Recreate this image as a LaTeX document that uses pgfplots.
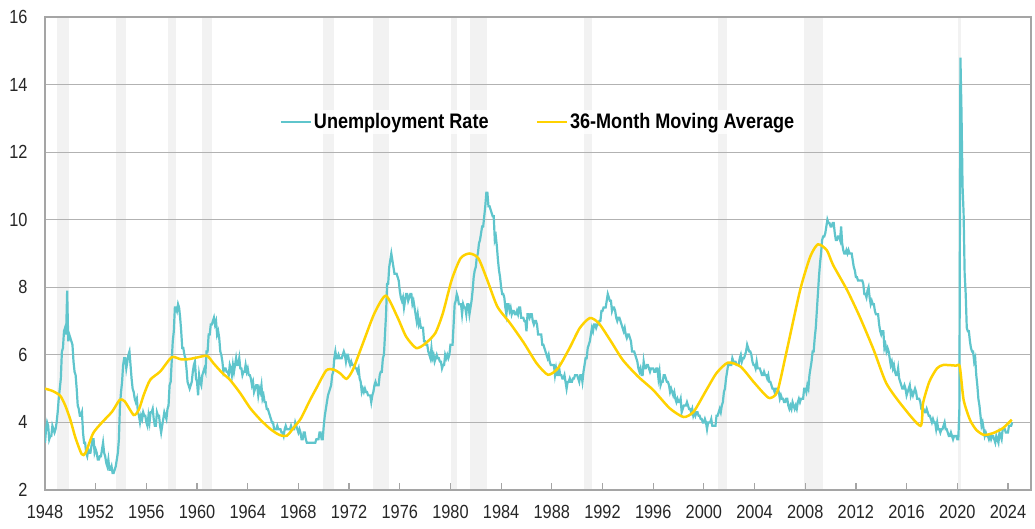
\documentclass[border=0pt]{standalone}
\usepackage{fontspec}
\setmainfont{Liberation Sans}[FakeStretch=0.86]
\usepackage{pgfplots}
\pgfplotsset{compat=1.18}
\usepackage{pgfplotstable}
\usetikzlibrary{calc}
\definecolor{teal1}{RGB}{95,197,204}
\definecolor{gold1}{RGB}{255,210,0}
\definecolor{bandgray}{RGB}{242,242,242}
\definecolor{gridgray}{RGB}{178,178,178}
\definecolor{axisgray}{RGB}{165,165,165}

% monthly unemployment rate, Jan 1948 - May 2024
\pgfplotstableread[row sep=\\]{
u\\
3.4\\3.8\\4.0\\3.9\\3.5\\3.6\\3.6\\3.9\\3.8\\3.7\\3.8\\4.0\\
4.3\\4.7\\5.0\\5.3\\6.1\\6.2\\6.7\\6.8\\6.6\\7.9\\6.4\\6.6\\
6.5\\6.4\\6.3\\5.8\\5.5\\5.4\\5.0\\4.5\\4.4\\4.2\\4.2\\4.3\\
3.7\\3.4\\3.4\\3.1\\3.0\\3.2\\3.1\\3.1\\3.3\\3.5\\3.5\\3.1\\
3.2\\3.1\\2.9\\2.9\\3.0\\3.0\\3.2\\3.4\\3.1\\3.0\\2.8\\2.7\\
2.9\\2.6\\2.6\\2.7\\2.5\\2.5\\2.6\\2.7\\2.9\\3.1\\3.5\\4.5\\
4.9\\5.2\\5.7\\5.9\\5.9\\5.6\\5.8\\6.0\\6.1\\5.7\\5.3\\5.0\\
4.9\\4.7\\4.6\\4.7\\4.3\\4.2\\4.0\\4.2\\4.1\\4.3\\4.2\\4.2\\
4.0\\3.9\\4.2\\4.0\\4.3\\4.3\\4.4\\4.1\\3.9\\3.9\\4.3\\4.2\\
4.2\\3.9\\3.7\\3.9\\4.1\\4.3\\4.2\\4.1\\4.4\\4.5\\5.1\\5.2\\
5.8\\6.4\\6.7\\7.4\\7.4\\7.3\\7.5\\7.4\\7.1\\6.7\\6.2\\6.2\\
6.0\\5.9\\5.6\\5.2\\5.1\\5.0\\5.1\\5.2\\5.5\\5.7\\5.8\\5.3\\
5.2\\4.8\\5.4\\5.2\\5.1\\5.4\\5.5\\5.6\\5.5\\6.1\\6.1\\6.6\\
6.6\\6.9\\6.9\\7.0\\7.1\\6.9\\7.0\\6.6\\6.7\\6.5\\6.1\\6.0\\
5.8\\5.5\\5.6\\5.6\\5.5\\5.5\\5.4\\5.7\\5.6\\5.4\\5.7\\5.5\\
5.7\\5.9\\5.7\\5.7\\5.9\\5.6\\5.6\\5.4\\5.5\\5.5\\5.7\\5.5\\
5.6\\5.4\\5.4\\5.3\\5.1\\5.2\\4.9\\5.0\\5.1\\5.1\\4.8\\5.0\\
4.9\\5.1\\4.7\\4.8\\4.6\\4.6\\4.4\\4.4\\4.3\\4.2\\4.1\\4.0\\
4.0\\3.8\\3.8\\3.8\\3.9\\3.8\\3.8\\3.8\\3.7\\3.7\\3.6\\3.8\\
3.9\\3.8\\3.8\\3.8\\3.8\\3.9\\3.8\\3.8\\3.8\\4.0\\3.9\\3.8\\
3.7\\3.8\\3.7\\3.5\\3.5\\3.7\\3.7\\3.5\\3.4\\3.4\\3.4\\3.4\\
3.4\\3.4\\3.4\\3.4\\3.4\\3.5\\3.5\\3.5\\3.7\\3.7\\3.5\\3.5\\
3.9\\4.2\\4.4\\4.6\\4.8\\4.9\\5.0\\5.1\\5.4\\5.5\\5.9\\6.1\\
5.9\\5.9\\6.0\\5.9\\5.9\\5.9\\6.0\\6.1\\6.0\\5.8\\6.0\\6.0\\
5.8\\5.7\\5.8\\5.7\\5.7\\5.7\\5.6\\5.6\\5.5\\5.6\\5.3\\5.2\\
4.9\\5.0\\4.9\\5.0\\4.9\\4.9\\4.8\\4.8\\4.8\\4.6\\4.8\\4.9\\
5.1\\5.2\\5.1\\5.1\\5.1\\5.4\\5.5\\5.5\\5.9\\6.0\\6.6\\7.2\\
8.1\\8.1\\8.6\\8.8\\9.0\\8.8\\8.6\\8.4\\8.4\\8.4\\8.3\\8.2\\
7.9\\7.7\\7.6\\7.7\\7.4\\7.6\\7.8\\7.8\\7.6\\7.7\\7.8\\7.8\\
7.5\\7.6\\7.4\\7.2\\7.0\\7.2\\6.9\\7.0\\6.8\\6.8\\6.8\\6.4\\
6.4\\6.3\\6.3\\6.1\\6.0\\5.9\\6.2\\5.9\\6.0\\5.8\\5.9\\6.0\\
5.9\\5.9\\5.8\\5.8\\5.6\\5.7\\5.7\\6.0\\5.9\\6.0\\5.9\\6.0\\
6.3\\6.3\\6.3\\6.9\\7.5\\7.6\\7.8\\7.7\\7.5\\7.5\\7.5\\7.2\\
7.5\\7.4\\7.4\\7.2\\7.5\\7.5\\7.2\\7.4\\7.6\\7.9\\8.3\\8.5\\
8.6\\8.9\\9.0\\9.3\\9.4\\9.6\\9.8\\9.8\\10.1\\10.4\\10.8\\10.8\\
10.4\\10.4\\10.3\\10.2\\10.1\\10.1\\9.4\\9.5\\9.2\\8.8\\8.5\\8.3\\
8.0\\7.8\\7.8\\7.7\\7.4\\7.2\\7.5\\7.5\\7.3\\7.4\\7.2\\7.3\\
7.3\\7.2\\7.2\\7.3\\7.2\\7.4\\7.4\\7.1\\7.1\\7.1\\7.0\\7.0\\
6.7\\7.2\\7.2\\7.1\\7.2\\7.2\\7.0\\6.9\\7.0\\7.0\\6.9\\6.6\\
6.6\\6.6\\6.6\\6.3\\6.3\\6.2\\6.1\\6.0\\5.9\\6.0\\5.8\\5.7\\
5.7\\5.7\\5.7\\5.4\\5.6\\5.4\\5.4\\5.6\\5.4\\5.4\\5.3\\5.3\\
5.4\\5.2\\5.0\\5.2\\5.2\\5.3\\5.2\\5.2\\5.3\\5.3\\5.4\\5.4\\
5.4\\5.3\\5.2\\5.4\\5.4\\5.2\\5.5\\5.7\\5.9\\5.9\\6.2\\6.3\\
6.4\\6.6\\6.8\\6.7\\6.9\\6.9\\6.8\\6.9\\6.9\\7.0\\7.0\\7.3\\
7.3\\7.4\\7.4\\7.4\\7.6\\7.8\\7.7\\7.6\\7.6\\7.3\\7.4\\7.4\\
7.3\\7.1\\7.0\\7.1\\7.1\\7.0\\6.9\\6.8\\6.7\\6.8\\6.6\\6.5\\
6.6\\6.6\\6.5\\6.4\\6.1\\6.1\\6.1\\6.0\\5.9\\5.8\\5.6\\5.5\\
5.6\\5.4\\5.4\\5.8\\5.6\\5.6\\5.7\\5.7\\5.6\\5.5\\5.6\\5.6\\
5.6\\5.5\\5.5\\5.6\\5.6\\5.3\\5.5\\5.1\\5.2\\5.2\\5.4\\5.4\\
5.3\\5.2\\5.2\\5.1\\4.9\\5.0\\4.9\\4.8\\4.9\\4.7\\4.6\\4.7\\
4.6\\4.6\\4.7\\4.3\\4.4\\4.5\\4.5\\4.5\\4.6\\4.5\\4.4\\4.4\\
4.3\\4.4\\4.2\\4.3\\4.2\\4.3\\4.3\\4.2\\4.2\\4.1\\4.1\\4.0\\
4.0\\4.1\\4.0\\3.8\\4.0\\4.0\\4.0\\4.1\\3.9\\3.9\\3.9\\3.9\\
4.2\\4.2\\4.3\\4.4\\4.3\\4.5\\4.6\\4.9\\5.0\\5.3\\5.5\\5.7\\
5.7\\5.7\\5.7\\5.9\\5.8\\5.8\\5.8\\5.7\\5.7\\5.7\\5.9\\6.0\\
5.8\\5.9\\5.9\\6.0\\6.1\\6.3\\6.2\\6.1\\6.1\\6.0\\5.8\\5.7\\
5.7\\5.6\\5.8\\5.6\\5.6\\5.6\\5.5\\5.4\\5.4\\5.5\\5.4\\5.4\\
5.3\\5.4\\5.2\\5.2\\5.1\\5.0\\5.0\\4.9\\5.0\\5.0\\5.0\\4.9\\
4.7\\4.8\\4.7\\4.7\\4.6\\4.6\\4.7\\4.7\\4.5\\4.4\\4.5\\4.4\\
4.6\\4.5\\4.4\\4.5\\4.4\\4.6\\4.7\\4.6\\4.7\\4.7\\4.7\\5.0\\
5.0\\4.9\\5.1\\5.0\\5.4\\5.6\\5.8\\6.1\\6.1\\6.5\\6.8\\7.3\\
7.8\\8.3\\8.7\\9.0\\9.4\\9.5\\9.5\\9.6\\9.8\\10.0\\9.9\\9.9\\
9.8\\9.8\\9.9\\9.9\\9.6\\9.4\\9.4\\9.5\\9.5\\9.4\\9.8\\9.3\\
9.1\\9.0\\9.0\\9.1\\9.0\\9.1\\9.0\\9.0\\9.0\\8.8\\8.6\\8.5\\
8.3\\8.3\\8.2\\8.2\\8.2\\8.2\\8.2\\8.1\\7.8\\7.8\\7.7\\7.9\\
8.0\\7.7\\7.5\\7.6\\7.5\\7.5\\7.3\\7.2\\7.2\\7.2\\6.9\\6.7\\
6.6\\6.7\\6.7\\6.2\\6.3\\6.1\\6.2\\6.1\\5.9\\5.7\\5.8\\5.6\\
5.7\\5.5\\5.4\\5.4\\5.6\\5.3\\5.2\\5.1\\5.0\\5.0\\5.1\\5.0\\
4.8\\4.9\\5.0\\5.1\\4.8\\4.9\\4.8\\4.9\\5.0\\4.9\\4.7\\4.7\\
4.7\\4.6\\4.4\\4.4\\4.4\\4.3\\4.3\\4.4\\4.3\\4.2\\4.2\\4.1\\
4.0\\4.1\\4.0\\4.0\\3.8\\4.0\\3.8\\3.8\\3.7\\3.8\\3.8\\3.9\\
4.0\\3.8\\3.8\\3.7\\3.6\\3.6\\3.7\\3.6\\3.5\\3.6\\3.6\\3.6\\
3.5\\3.5\\4.4\\14.8\\13.2\\11.0\\10.2\\8.4\\7.8\\6.8\\6.7\\6.7\\
6.4\\6.2\\6.1\\6.1\\5.8\\5.9\\5.4\\5.1\\4.7\\4.5\\4.2\\3.9\\
4.0\\3.8\\3.6\\3.7\\3.6\\3.6\\3.5\\3.6\\3.5\\3.6\\3.6\\3.5\\
3.4\\3.6\\3.5\\3.4\\3.7\\3.6\\3.5\\3.8\\3.8\\3.8\\3.7\\3.7\\
3.7\\3.9\\3.9\\3.9\\4.0\\
}\unrate

\newcommand{\band}[2]{\addplot[fill=bandgray, draw=none, forget plot, on layer=axis background]
  coordinates {(#1,2) (#2,2) (#2,16) (#1,16)} -- cycle;}

\begin{document}
\begin{tikzpicture}
\begin{axis}[
  set layers=standard,
  scale only axis,
  width=986pt, height=473pt,
  xmin=1948, xmax=2025.82,
  ymin=2, ymax=16,
  xtick={1948,1952,...,2024},
  ytick={2,4,...,16},
  xtick pos=bottom,
  tick align=inside,
  major tick length=7pt,
  x tick style={draw=axisgray, line width=1.2pt},
  y tick style={draw=none},
  ymajorgrids,
  grid style={draw=gridgray, line width=1.2pt},
  axis line style={draw=axisgray, line width=1.2pt},
  /pgf/number format/1000 sep={},
  /pgf/number format/assume math mode=true,
  ticklabel style={font=\fontsize{19}{22}\selectfont, text=black!85},
  xticklabel style={yshift=-12pt},
  yticklabel style={xshift=-14pt},
  legend columns=2,
  legend style={at={(0.5,0.778)}, anchor=center, draw=none,
    fill=white, fill opacity=0.8, text opacity=1,
    font=\bfseries\fontsize{21}{24}\selectfont,
    /tikz/every even column/.append style={column sep=45pt}},
  legend image code/.code={\draw[#1] (0pt,0pt) -- (30pt,0pt);},
]
\band{1948.95}{1949.87}
\band{1953.60}{1954.39}
\band{1957.72}{1958.31}
\band{1960.37}{1961.16}
\band{1969.97}{1970.84}
\band{1973.90}{1975.17}
\band{1980.04}{1980.49}
\band{1981.54}{1982.86}
\band{1990.54}{1991.15}
\band{2001.14}{2001.80}
\band{2007.93}{2009.38}
\band{2020.08}{2020.30}

\addplot[color=teal1, line width=2.2pt] table[x expr=1948+\coordindex/12, y=u]{\unrate};
\addlegendentry{Unemployment Rate}

\addplot[color=gold1, line width=2.5pt, smooth, tension=0.4] coordinates {
  (1948.0,5.00) (1948.6,4.93) (1949.2,4.79) (1949.6,4.50) (1950.0,4.08)
  (1950.4,3.55) (1950.9,3.06) (1951.2,3.10) (1951.8,3.68) (1952.5,4.00)
  (1953.3,4.32) (1953.9,4.67) (1954.3,4.62) (1955.0,4.22) (1955.4,4.37)
  (1955.8,4.82) (1956.3,5.26) (1957.1,5.51) (1958.0,5.93) (1958.7,5.87)
  (1959.3,5.87) (1960.1,5.93) (1960.8,5.97) (1961.3,5.75) (1962.0,5.46)
  (1962.6,5.26) (1963.4,4.87) (1964.2,4.42) (1965.0,4.08) (1965.8,3.80)
  (1966.5,3.63) (1967.1,3.61) (1967.7,3.88) (1968.2,4.12) (1968.9,4.65)
  (1969.4,5.00) (1970.2,5.54) (1970.8,5.56) (1971.3,5.45) (1971.8,5.29)
  (1972.3,5.56) (1973.1,6.35) (1974.0,7.23) (1974.9,7.75) (1975.8,7.13)
  (1976.5,6.54) (1977.3,6.20) (1978.0,6.33) (1978.8,6.64) (1979.4,7.23)
  (1980.1,8.22) (1980.8,8.86) (1981.5,9.00) (1982.2,8.86) (1982.9,8.22)
  (1983.7,7.43) (1984.7,6.94) (1985.8,6.35) (1986.8,5.75) (1987.7,5.41)
  (1988.5,5.61) (1989.4,6.20) (1990.2,6.79) (1991.0,7.09) (1991.7,6.94)
  (1992.6,6.44) (1993.6,5.85) (1994.8,5.36) (1996.0,4.96) (1997.3,4.42)
  (1998.4,4.16) (1999.2,4.32) (2000.2,4.96) (2001.0,5.46) (2001.9,5.77)
  (2002.9,5.65) (2003.9,5.21) (2004.7,4.87) (2005.2,4.72) (2005.8,4.91)
  (2006.5,6.05) (2007.6,7.92) (2008.4,8.91) (2009.0,9.27) (2009.7,9.10)
  (2010.2,8.66) (2011.3,7.92) (2012.3,7.13) (2013.4,6.15) (2014.4,5.16)
  (2015.7,4.47) (2017.1,3.90) (2017.3,4.57) (2017.8,5.21) (2018.4,5.60)
  (2018.9,5.70) (2019.9,5.68) (2020.2,5.65) (2020.5,4.67) (2021.0,4.08)
  (2021.5,3.78) (2022.1,3.63) (2022.8,3.68) (2023.6,3.83) (2024.3,4.08)
};
\addlegendentry{36-Month Moving Average}
\end{axis}
\pgfresetboundingbox
\path[use as bounding box] ($(current axis.south west)+(-45pt,-39pt)$)
  rectangle ($(current axis.north east)+(4pt,17pt)$);
\end{tikzpicture}
\end{document}
